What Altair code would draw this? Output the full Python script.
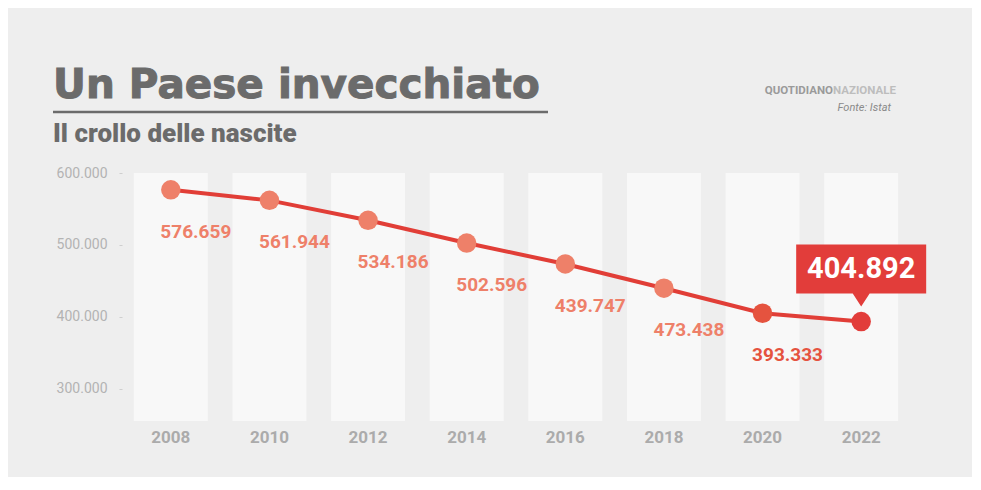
import altair as alt
import pandas as pd

# ---- data ----
years = [2008, 2010, 2012, 2014, 2016, 2018, 2020, 2022]
births = [576659, 561944, 534186, 502596, 473438, 439747, 404892, 393333]
value_labels = ["576.659", "561.944", "534.186", "502.596", "439.747", "473.438", "393.333", "404.892"]
y_ticks = [300000, 400000, 500000, 600000]

TITLE = "Un Paese invecchiato"
SUBTITLE = "Il crollo delle nascite"
BRAND_A = "QUOTIDIANO"
BRAND_B = "NAZIONALE"
SOURCE = "Fonte: Istat"

df = pd.DataFrame({"year": years, "births": births, "label": value_labels})

W, H = 788, 248
BG = "#eeeeee"
GREY = "#6b6b6b"
NARROW = "Roboto, sans-serif"

xscale = alt.Scale(type="band", paddingInner=0.25, paddingOuter=0.12)
yscale = alt.Scale(domain=[255000, 600000], zero=False, nice=False)
color_scale = alt.Scale(domain=years,
                        range=["#ee8069", "#ee8069", "#ee8069", "#ee8069",
                               "#ee8069", "#ee8069", "#e5533f", "#e23d3a"])

base = alt.Chart(df)

bands = base.mark_rect(color="#f8f8f8").encode(
    x=alt.X("year:O", scale=xscale, title=None,
            axis=alt.Axis(labelFont=NARROW, labelFontSize=17, labelFontWeight="bold",
                          labelColor="#ababab", ticks=False, domain=False,
                          labelPadding=8, labelAngle=0)),
    y=alt.value(0),
    y2=alt.value(H),
)

line = base.mark_line(color="#e13e37", strokeWidth=4).encode(
    x=alt.X("year:O", title=None),
    y=alt.Y("births:Q", scale=yscale, title=None,
            axis=alt.Axis(values=y_ticks,
                          labelExpr="replace(format(datum.value, ',d'), ',', '.')",
                          labelFont="Roboto", labelFontSize=14, labelColor="#b3b3b3",
                          tickSize=3, tickColor="#cfcfcf", domain=False, grid=False,
                          labelPadding=12)),
)

points = base.mark_point(filled=True, size=380, opacity=1, strokeWidth=0).encode(
    x=alt.X("year:O", title=None),
    y=alt.Y("births:Q", title=None,
            axis=alt.Axis(orient="right", values=y_ticks, labels=False, tickSize=3,
                          tickColor="#cfcfcf", domain=False, grid=False, offset=-17)),
    color=alt.Color("year:O", scale=color_scale, legend=None),
)

labels = base.transform_filter(f"datum.year != {years[-1]}").mark_text(
    dx=25, dy=48, align="center", baseline="alphabetic",
    font=NARROW, fontSize=19, fontWeight="bold",
).encode(
    x=alt.X("year:O", title=None),
    y=alt.Y("births:Q", title=None, axis=None),
    text="label:N",
    color=alt.Color("year:O", scale=color_scale, legend=None),
)

callout_path = "M-1,-1.185L1,-1.185L1,-0.43L0.13,-0.43L0,-0.23L-0.13,-0.43L-1,-0.43Z"
callout_box = base.transform_filter(f"datum.year == {years[-1]}").mark_point(
    shape=callout_path, size=16900, filled=True, opacity=1, strokeWidth=0, color="#e23d3a"
).encode(
    x=alt.X("year:O", title=None),
    y=alt.Y("births:Q", title=None, axis=None),
)
callout_text = base.transform_filter(f"datum.year == {years[-1]}").mark_text(
    dy=-44, align="center", baseline="alphabetic", color="white",
    font=NARROW, fontSize=29, fontWeight="bold",
).encode(
    x=alt.X("year:O", title=None),
    y=alt.Y("births:Q", title=None, axis=None),
    text="label:N",
)


def deco(text):
    return alt.Chart(pd.DataFrame({"t": [text]}))


title = deco(TITLE).mark_text(
    align="left", baseline="alphabetic", font="DejaVu Sans", fontSize=40.5, fontWeight="bold",
    color=GREY, stroke=GREY, strokeWidth=1
).encode(x=alt.value(-69), y=alt.value(-75), text="t:N")
underline = deco(TITLE).mark_rule(color=GREY, strokeWidth=2.5).encode(
    x=alt.value(-69), x2=alt.value(426), y=alt.value(-61)
)
subtitle = deco(SUBTITLE).mark_text(
    align="left", baseline="alphabetic", font="Roboto", fontSize=26, fontWeight=900, color=GREY
).encode(x=alt.value(-69), y=alt.value(-31), text="t:N")
brand_a = deco(BRAND_A).mark_text(
    align="right", baseline="alphabetic", font=NARROW, fontSize=11.5, fontWeight="bold", color="#9a9a9a"
).encode(x=alt.value(711), y=alt.value(-79), text="t:N")
brand_b = deco(BRAND_B).mark_text(
    align="left", baseline="alphabetic", font=NARROW, fontSize=11.5, fontWeight="bold", color="#bdbdbd"
).encode(x=alt.value(711), y=alt.value(-79), text="t:N")
source = deco(SOURCE).mark_text(
    align="right", baseline="alphabetic", font="Roboto", fontSize=11, fontStyle="italic", color="#8a8a8a"
).encode(x=alt.value(769), y=alt.value(-62), text="t:N")

chart = alt.layer(
    bands, line, points, labels, callout_box, callout_text,
    title, underline, subtitle, brand_a, brand_b, source,
).resolve_axis(y="independent").properties(
    width=W, height=H,
    background=BG,
    padding={"left": 114, "top": 165, "right": 62, "bottom": 56},
    autosize=alt.AutoSizeParams(type="none"),
).configure_view(stroke=None)

chart.save("out.html", embed_options={"renderer": "svg", "actions": False})
